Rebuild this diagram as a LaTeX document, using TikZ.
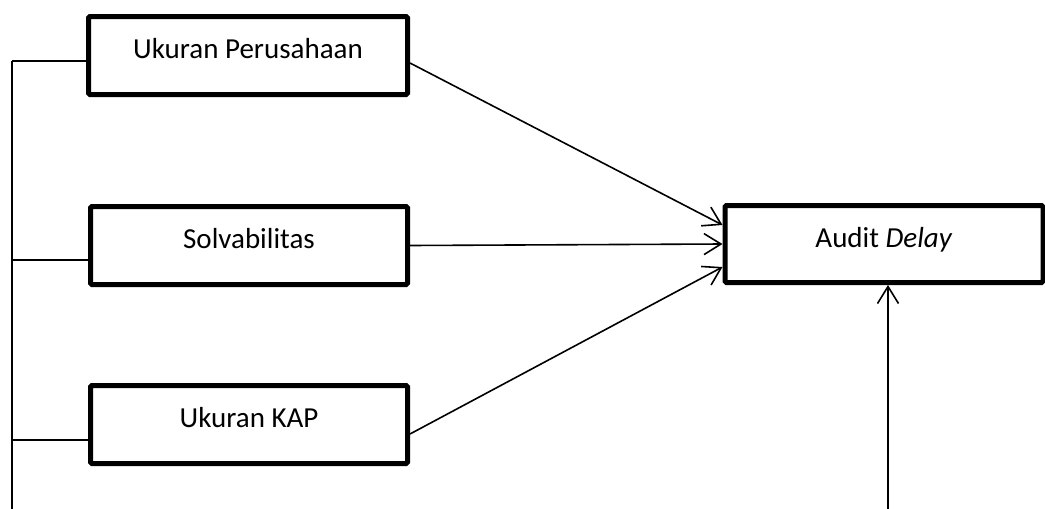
\documentclass[tikz,border=0pt]{standalone}
\usepackage{fontspec}
\setmainfont{Carlito}
\usetikzlibrary{arrows.meta}

\begin{document}
\begin{tikzpicture}[x=1pt, y=-1pt,
  every node/.style = {font=\fontsize{29}{35}\selectfont},
  varbox/.style = {shape=rectangle, draw, line width=5pt, rounded corners=1.5pt,
    minimum height=78pt, text height=14pt, text depth=8pt},
  link/.style = {line width=1.6pt},
  arr/.style = {link, -{Straight Barb[length=17pt, width=21pt]}}]
  \useasboundingbox (0,0) rectangle (1045,509);

  % variabel bebas
  \node[varbox, minimum width=319pt] (uk) at (248,55.5) {Ukuran Perusahaan};
  \node[varbox, minimum width=317pt] (solv) at (249,245.5) {Solvabilitas};
  \node[varbox, minimum width=317pt] (kap) at (249,424.5) {Ukuran KAP};
  % variabel terikat
  \node[varbox, minimum width=318pt, minimum height=77pt] (delay) at (884,244) {Audit \textit{Delay}};

  % garis kiri
  \coordinate (tap1) at (12,61);
  \coordinate (tap2) at (12,260);
  \coordinate (tap3) at (12,440);
  \coordinate (busend) at (12,509);
  \draw[link] (tap1) -- (busend);
  \draw[link] (tap1) -- (uk.west |- tap1);
  \draw[link] (tap2) -- (solv.west |- tap2);
  \draw[link] (tap3) -- (kap.west |- tap3);

  % panah ke audit delay
  \draw[arr] ([yshift=-7.5pt]uk.east) -- ([yshift=19pt]delay.west);
  \draw[arr] (solv.east) -- (delay.west);
  \draw[arr] ([yshift=-9.5pt]kap.east) -- ([yshift=-23pt]delay.west);
  \coordinate (bot) at (888,509);
  \draw[arr] (bot) -- (bot |- delay.south);
\end{tikzpicture}
\end{document}
